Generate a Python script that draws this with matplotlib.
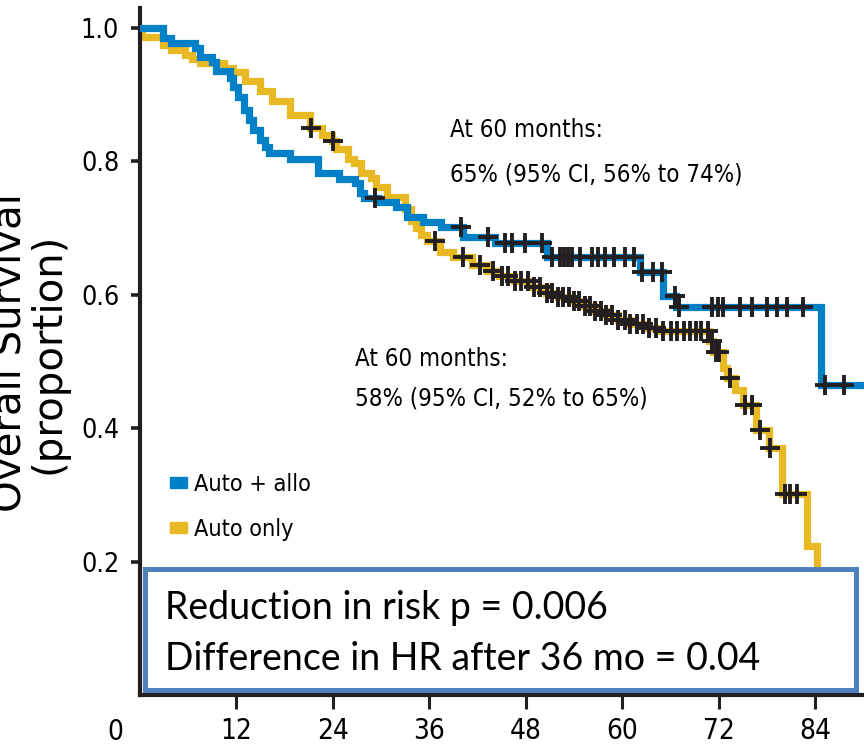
import os
import numpy as np
import matplotlib
matplotlib.use('Agg')
import matplotlib.pyplot as plt
from matplotlib import font_manager
from matplotlib.font_manager import FontProperties
import matplotlib.patches as mpatches

# ---------------- fonts ----------------
files = list(font_manager.findSystemFonts()) + [f.fname for f in font_manager.fontManager.ttflist]


def find_font(patterns):
    for p in patterns:
        for f in files:
            if p.lower() == os.path.basename(f).lower():
                return f
    return None


narrow_file = find_font(['LiberationSansNarrow-Regular.ttf', 'DejaVuSansCondensed.ttf',
                         'NotoSans-CondensedRegular.ttf', 'NotoSans-Condensed.ttf',
                         'RobotoCondensed-Regular.ttf'])
if narrow_file and 'narrow' in narrow_file.lower():
    SC = 1.0
elif narrow_file:
    SC = 0.80
else:
    SC = 0.78


def nfp(size):
    if narrow_file:
        return FontProperties(fname=narrow_file, size=size * SC)
    return FontProperties(family=['Liberation Sans', 'DejaVu Sans'], size=size * SC)


available = {f.name for f in font_manager.fontManager.ttflist}
BOXFONT = 'Lato' if 'Lato' in available else 'DejaVu Sans'

# ---------------- data ----------------
# Auto + allo: step times (months) and survival from that time on
blue_t = [0, 2.9, 3.9, 6.8, 7.5, 8.9, 9.5, 11.2, 11.6, 12.2, 12.9, 13.5, 14.1, 14.9,
          15.6, 16.0, 18.7, 22.2, 24.7, 26.7, 27.4, 27.8, 29.6, 31.9, 33.2, 35.2,
          37.4, 40.2, 44.2, 50.6, 62.2, 65.0, 66.7, 84.7, 92.0]
blue_s = [1.0, 0.985, 0.978, 0.970, 0.957, 0.949, 0.935, 0.925, 0.912, 0.897, 0.877,
          0.862, 0.847, 0.832, 0.822, 0.812, 0.804, 0.783, 0.774, 0.767, 0.752, 0.745,
          0.739, 0.731, 0.717, 0.709, 0.702, 0.687, 0.677, 0.656, 0.634, 0.598, 0.581,
          0.465, 0.465]
blue_cens = [29.2, 39.9, 43.3, 45.4, 46.3, 47.9, 50.0, 51.2, 52.2, 52.7, 53.2, 53.7,
             54.7, 56.2, 57.0, 57.8, 59.0, 60.3, 61.4, 62.4, 63.8, 64.9, 66.5, 67.0,
             71.2, 71.9, 72.5, 74.6, 76.1, 78.0, 79.2, 80.5, 82.5, 85.2, 87.6]

# Auto only
yel_t = [0, 0.3, 2.9, 3.9, 5.6, 6.5, 7.5, 10.4, 11.6, 13.0, 14.9, 16.4, 18.7, 21.2,
         22.6, 23.9, 24.4, 25.9, 26.6, 27.5, 28.7, 29.4, 30.7, 32.9, 33.7, 34.3, 35.0,
         35.7, 37.3, 38.9, 41.3, 43.1, 44.6, 46.5, 48.5, 50.5, 52.0, 53.5, 55.0, 56.5,
         58.0, 59.5, 61.0, 62.8, 64.8, 70.8, 71.3, 72.5, 73.0, 74.0, 75.0, 76.6, 78.2,
         79.9, 83.0, 84.2, 84.6]
yel_s = [1.0, 0.986, 0.975, 0.967, 0.960, 0.953, 0.947, 0.940, 0.934, 0.920, 0.906,
         0.891, 0.869, 0.850, 0.840, 0.830, 0.819, 0.804, 0.797, 0.782, 0.775, 0.761,
         0.746, 0.729, 0.710, 0.700, 0.690, 0.680, 0.664, 0.656, 0.644, 0.635, 0.628,
         0.620, 0.612, 0.603, 0.597, 0.590, 0.583, 0.576, 0.569, 0.562, 0.556, 0.550,
         0.545, 0.530, 0.515, 0.490, 0.475, 0.457, 0.435, 0.397, 0.370, 0.302, 0.224,
         0.100, 0.100]
yel_cens = [21.3, 24.0, 36.7, 40.2, 42.3, 43.9, 45.0, 45.8, 46.6, 47.4, 48.3, 49.0,
            49.8, 50.6, 51.3, 52.0, 52.6, 53.3, 54.0, 54.6, 55.3, 56.0, 56.6, 57.3,
            58.0, 58.7, 59.5, 60.3, 61.0, 61.8, 62.6, 63.3, 64.2, 65.0, 66.0, 66.8,
            67.6, 68.4, 69.2, 69.8, 70.6, 71.2, 71.6, 72.0, 73.4, 75.2, 76.1, 77.1,
            78.4, 80.2, 80.8, 81.7]

series_labels = ['Auto + allo', 'Auto only']
x_ticks = [12, 24, 36, 48, 60, 72, 84]
x_ticklabels = ['12', '24', '36', '48', '60', '72', '84']
y_ticks = [0.2, 0.4, 0.6, 0.8, 1.0]
y_ticklabels = ['0.2', '0.4', '0.6', '0.8', '1.0']
ann_allo = ['At 60 months:', '65% (95% CI, 56% to 74%)']
ann_auto = ['At 60 months:', '58% (95% CI, 52% to 65%)']
box_lines = ['Reduction in risk p = 0.006', 'Difference in HR after 36 mo = 0.04']

BLUE = '#0080C6'
YELLOW = '#E8B923'
BOXEDGE = '#4F81BD'
INK = '#231F20'

# ---------------- figure ----------------
W, H = 864, 751
fig = plt.figure(figsize=(W / 100, H / 100), dpi=100)
ax = fig.add_axes([140 / W, (H - 695) / H, (W - 140) / W, (695 - 8) / H])
ax.set_xlim(0, 90.05)
ax.set_ylim(0, 1.03)


def step_value(t_list, s_list, t):
    idx = np.searchsorted(np.asarray(t_list), t, side='right') - 1
    return np.asarray(s_list)[idx]


lw = 5.2
ax.step(yel_t, yel_s, where='post', color=YELLOW, lw=lw, zorder=2,
        solid_joinstyle='miter')
ax.step(blue_t, blue_s, where='post', color=BLUE, lw=lw, zorder=3,
        solid_joinstyle='miter')

ax.plot(yel_cens, step_value(yel_t, yel_s, yel_cens), ls='none', marker='+',
        ms=14, mew=2.8, color=INK, zorder=4)
ax.plot(blue_cens, step_value(blue_t, blue_s, blue_cens), ls='none', marker='+',
        ms=14, mew=2.8, color=INK, zorder=4)

# axes styling
for side in ['top', 'right']:
    ax.spines[side].set_visible(False)
for side in ['left', 'bottom']:
    ax.spines[side].set_linewidth(3)
    ax.spines[side].set_color(INK)
ax.set_xticks(x_ticks)
ax.set_xticklabels(x_ticklabels)
ax.set_yticks(y_ticks)
ax.set_yticklabels(y_ticklabels)
for lbl in ax.get_xticklabels():
    lbl.set_fontproperties(nfp(25))
for lbl in ax.get_yticklabels():
    lbl.set_fontproperties(nfp(24))
ax.tick_params(axis='x', length=10, width=2.2, pad=6.0, color=INK)
ax.tick_params(axis='y', length=6.5, width=2.6, pad=8.5, color=INK)

# origin label
ax.text(-3.1, -0.035, '0', transform=ax.transData, fontproperties=nfp(25),
        ha='center', va='top')

# y label (two lines; cut at the left edge as in the original)
fig.text(29 / W, (H - 353) / H, 'Overall Survival\n(proportion)', rotation=90,
         ha='center', va='center', multialignment='center', linespacing=0.95,
         fontsize=29, family='DejaVu Sans')

# annotations
for xy, s in [((0.428, 0.812), ann_allo[0]), ((0.428, 0.748), ann_allo[1]),
              ((0.297, 0.479), ann_auto[0]), ((0.297, 0.421), ann_auto[1])]:
    ax.text(xy[0], xy[1], s, transform=ax.transAxes, fontproperties=nfp(21.5),
            va='baseline', ha='left')

# legend
handles = [mpatches.Patch(color=BLUE), mpatches.Patch(color=YELLOW)]
leg = ax.legend(handles, series_labels, loc='upper left',
                bbox_to_anchor=(0.0414, 0.323), frameon=False,
                prop=nfp(21), handlelength=0.75,
                handleheight=0.36, handletextpad=0.3, labelspacing=0.95,
                borderpad=0, borderaxespad=0)

# box
box = mpatches.Rectangle((0.0072, 0.0066), 0.9883 - 0.0072, 0.1827 - 0.0066,
                         transform=ax.transAxes, facecolor='white',
                         edgecolor=BOXEDGE, lw=3.6, zorder=5, clip_on=False)
ax.add_patch(box)
ax.text(0.0345, 0.110, box_lines[0], transform=ax.transAxes, fontsize=27,
        family=BOXFONT, va='baseline', ha='left', zorder=6)
ax.text(0.0345, 0.0364, box_lines[1], transform=ax.transAxes, fontsize=27,
        family=BOXFONT, va='baseline', ha='left', zorder=6)

fig.savefig('out.png', dpi=100)
